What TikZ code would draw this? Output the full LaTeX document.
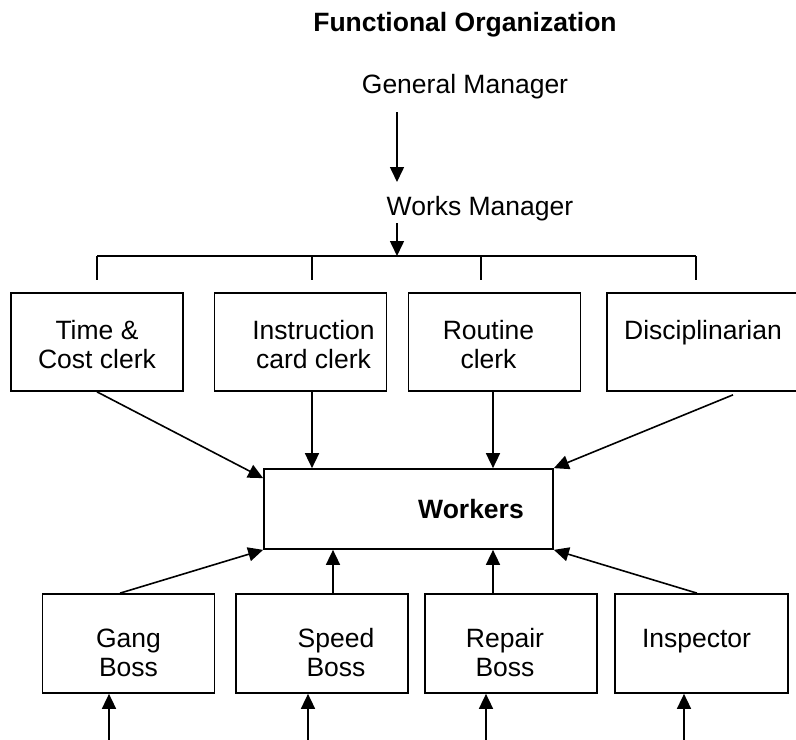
\documentclass[tikz,border=0pt]{standalone}
\usepackage{fontspec}
\setmainfont{Liberation Sans}
\usetikzlibrary{arrows.meta}
\usetikzlibrary{positioning}

% first-line struts to sit the text like the original boxes
\newcommand{\hiline}{\rule{0pt}{24bp}}
\newcommand{\loline}{\rule{0pt}{37bp}}

\tikzset{
    arr/.style={line width=1.6bp, -{Triangle[length=15bp, width=14bp]}},
    wire/.style={line width=1.6bp},
    box/.style={draw, line width=1.7bp, align=center, minimum width=172bp, minimum height=98bp, inner sep=0pt},
    lowbox/.style={box, minimum height=99bp}
}

\begin{document}
\begin{tikzpicture}[x=1bp, y=-1bp, font=\fontsize{26.5bp}{29bp}\selectfont]
        \useasboundingbox (0,0) rectangle (796,740);
        \clip (0,0) rectangle (796,740);

        % Titles
        \node[anchor=base, font=\fontsize{26.5bp}{29bp}\selectfont\bfseries] (title) at (465, 32) {Functional Organization};
        \node[anchor=base] (gm) at (465, 93) {General Manager};
        \node[anchor=base] (wm) at (480, 215) {Works Manager};

        % Manager arrows
        \coordinate (gmout) at (397, 112);
        \coordinate (wmin) at (397, 182);
        \coordinate (wmout) at (397, 223);
        \draw[arr] (gmout) -- (wmin);

        % Branch line
        \coordinate (busL) at (97, 256);
        \coordinate (busR) at (696, 256);
        \draw[wire] (busL) -- (busR);
        \draw[arr] (wmout) -- (wmout |- busL);
        \foreach \x in {97, 312, 481, 696} {
            \draw[wire] (\x, 256) -- (\x, 280);
        }

        % Functional clerks
        \node[box] (tc) at (97, 342) {\hiline Time \&\\Cost clerk};
        \node[box] (ic) at (300.5, 342) {\hspace*{26bp}\hiline Instruction\\\hspace*{26bp}card clerk};
        \node[box] (rc) at (494.5, 342) {\hiline Routine\hspace*{12bp}\\clerk\hspace*{12bp}};
        \node[box, minimum width=192bp] (dc) at (703, 342) {\hiline Disciplinarian\\~};

        % Workers
        \node[draw, line width=1.7bp, minimum width=289bp, minimum height=80bp, inner sep=0pt] (wk) at (408.5, 509)
            {\hspace*{125bp}\textbf{Workers}};

        % Shop bosses
        \node[lowbox] (gb) at (128.5, 643.5) {\loline Gang\\Boss};
        \node[lowbox] (sb) at (322, 643.5) {\hspace*{28bp}\loline Speed\\\hspace*{28bp}Boss};
        \node[lowbox] (rb) at (511, 643.5) {\loline Repair\hspace*{12bp}\\Boss\hspace*{12bp}};
        \node[lowbox, minimum width=173bp] (ip) at (701.5, 643.5) {\loline Inspector\hspace*{10bp}\\~};

        % Clerks to workers
        \draw[arr] (tc.south) -- ([yshift=-10bp]wk.north west);
        \draw[arr] ([xshift=11.5bp]ic.south) -- ([xshift=11.5bp]ic.south |- wk.north);
        \draw[arr] ([xshift=-1.5bp]rc.south) -- ([xshift=-1.5bp]rc.south |- wk.north);
        \draw[arr] ([xshift=30bp, yshift=-3bp]dc.south) -- (wk.north east);

        % Bosses to workers
        \draw[arr] ([xshift=-8.5bp]gb.north) -- (wk.south west);
        \draw[arr] ([xshift=11bp]sb.north) -- ([xshift=11bp]sb.north |- wk.south);
        \draw[arr] ([xshift=-18bp]rb.north) -- ([xshift=-18bp]rb.north |- wk.south);
        \draw[arr] ([xshift=-4.5bp]ip.north) -- (wk.south east);

        % Inputs from below
        \foreach \b/\dx in {gb/-19.5, sb/-14, rb/-25, ip/-17.5} {
            \draw[arr] ([xshift=\dx bp]\b.south) ++(0, 47) -- ([xshift=\dx bp]\b.south);
        }
\end{tikzpicture}
\end{document}
